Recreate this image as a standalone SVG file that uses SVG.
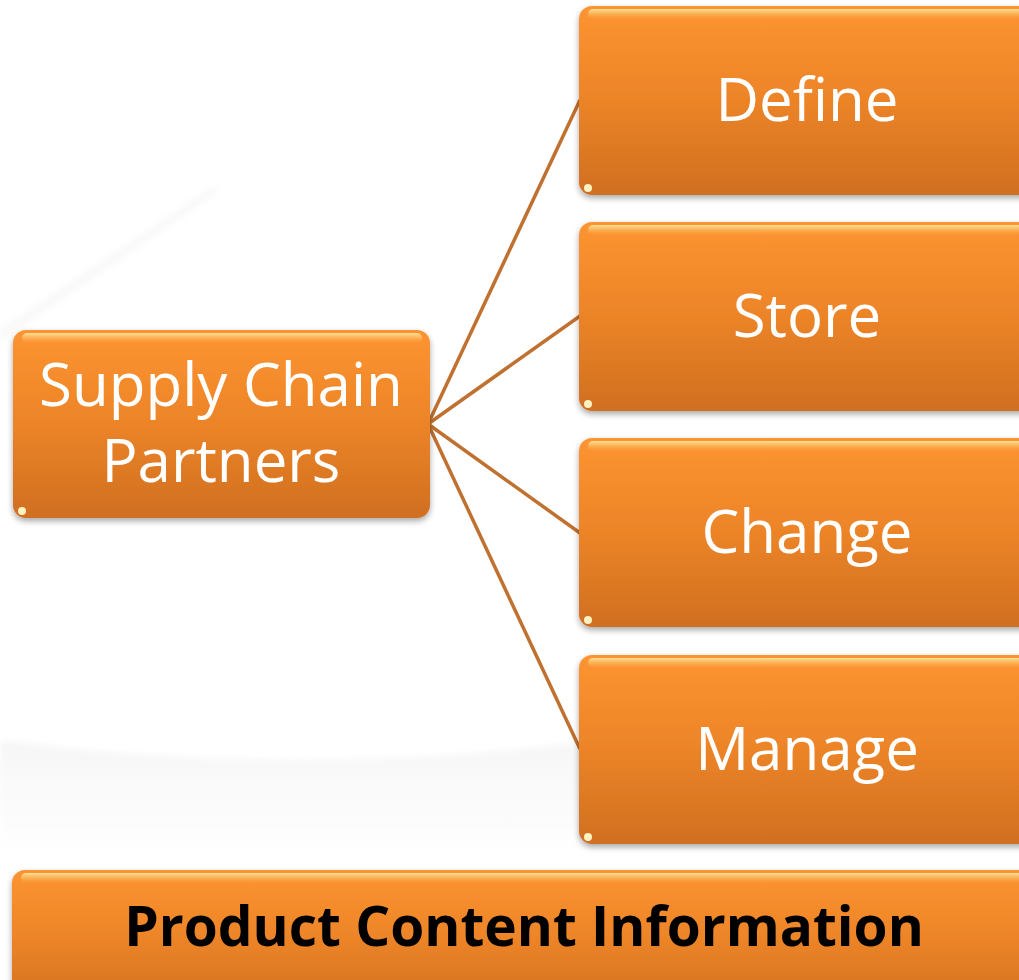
<svg xmlns="http://www.w3.org/2000/svg" width="1019" height="980" viewBox="0 0 1019 980">
<defs>
<linearGradient id="g" x1="0" y1="0" x2="0" y2="1">
<stop offset="0" stop-color="#fd9431"/>
<stop offset="0.5" stop-color="#ec8428"/>
<stop offset="1" stop-color="#d06f20"/>
</linearGradient>
<linearGradient id="hl" x1="0" y1="0" x2="0" y2="1">
<stop offset="0" stop-color="#ffe9a0" stop-opacity="0.9"/>
<stop offset="1" stop-color="#ffc060" stop-opacity="0"/>
</linearGradient>
<linearGradient id="bg" x1="0" y1="0" x2="0" y2="1">
<stop offset="0" stop-color="#f4f4f4" stop-opacity="0.8"/>
<stop offset="1" stop-color="#f4f4f4" stop-opacity="0"/>
</linearGradient>
<filter id="sh" x="-10%" y="-10%" width="120%" height="130%">
<feGaussianBlur in="SourceAlpha" stdDeviation="3"/>
<feOffset dx="0" dy="3" result="b"/>
<feComponentTransfer><feFuncA type="linear" slope="0.35"/></feComponentTransfer>
<feMerge><feMergeNode/><feMergeNode in="SourceGraphic"/></feMerge>
</filter>
<filter id="blur"><feGaussianBlur stdDeviation="3"/></filter>
</defs>
<style>
.box{fill:url(#g);filter:url(#sh)}
.hl{fill:url(#hl)}
.t{font-family:"Open Sans","Noto Sans","Liberation Sans",sans-serif;fill:#ffffff;text-anchor:middle}
.b{font-family:"Open Sans","Noto Sans","Liberation Sans",sans-serif;fill:#000000;font-weight:bold;text-anchor:middle}
.c{stroke:#c0702f;stroke-width:3.5;fill:none}
.dot{fill:#fff2c0}
</style>
<path d="M0 740 Q300 780 600 740 L600 860 L0 860 Z" fill="url(#bg)" filter="url(#blur)"/>
<path d="M0 330 L215 185 L218 192 L0 342 Z" fill="#f2f2f2" opacity="0.5" filter="url(#blur)"/>
<g id="connectors">
<line class="c" x1="428" y1="424" x2="580" y2="100"/>
<line class="c" x1="428" y1="424" x2="580" y2="316"/>
<line class="c" x1="428" y1="424" x2="580" y2="533"/>
<line class="c" x1="428" y1="424" x2="580" y2="749"/>
</g>
<g id="supply">
<rect class="box" x="13" y="330" width="417" height="188" rx="13"/>
<rect class="hl" x="22" y="333" width="400" height="10" rx="5"/>
<circle class="dot" cx="22" cy="511" r="4"/>
<text class="t" x="221" y="406" font-size="60">Supply Chain</text>
<text class="t" x="221" y="482" font-size="60">Partners</text>
</g>
<g id="define">
<rect class="box" x="579" y="6" width="460" height="189" rx="13"/>
<rect class="hl" x="588" y="9" width="440" height="10" rx="5"/>
<circle class="dot" cx="588" cy="188" r="4"/>
<text class="t" x="807" y="121" font-size="60">Define</text>
</g>
<g id="store">
<rect class="box" x="579" y="222" width="460" height="189" rx="13"/>
<rect class="hl" x="588" y="225" width="440" height="10" rx="5"/>
<circle class="dot" cx="588" cy="404" r="4"/>
<text class="t" x="807" y="337" font-size="60">Store</text>
</g>
<g id="change">
<rect class="box" x="579" y="438" width="460" height="189" rx="13"/>
<rect class="hl" x="588" y="441" width="440" height="10" rx="5"/>
<circle class="dot" cx="588" cy="620" r="4"/>
<text class="t" x="807" y="553" font-size="60">Change</text>
</g>
<g id="manage">
<rect class="box" x="579" y="655" width="460" height="189" rx="13"/>
<rect class="hl" x="588" y="658" width="440" height="10" rx="5"/>
<circle class="dot" cx="588" cy="837" r="4"/>
<text class="t" x="807" y="770" font-size="60">Manage</text>
</g>
<g id="product">
<rect class="box" x="12" y="870" width="1030" height="140" rx="13"/>
<rect class="hl" x="21" y="873" width="1010" height="10" rx="5"/>
<text class="b" x="524" y="946" font-size="55">Product Content Information</text>
</g>
</svg>
